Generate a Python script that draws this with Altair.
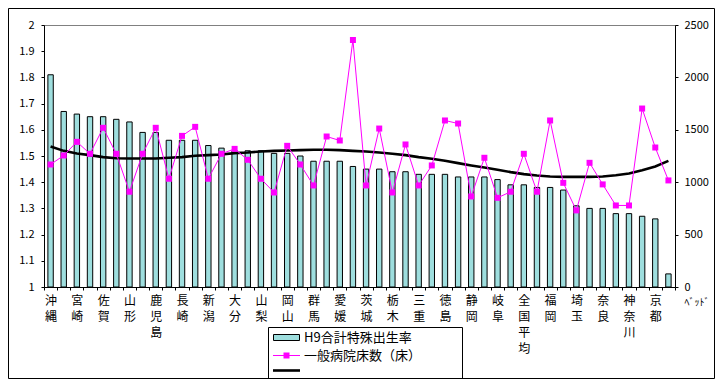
import json
import altair as alt
import pandas as pd

# ---- data ----
prefs = ["沖縄", "福島", "宮崎", "島根", "佐賀", "鳥取", "山形", "熊本", "鹿児島", "福井",
         "長崎", "岩手", "新潟", "長野", "大分", "秋田", "山梨", "青森", "岡山", "香川",
         "群馬", "滋賀", "愛媛", "富山", "茨城", "山口", "栃木", "和歌山", "三重", "石川",
         "徳島", "広島", "静岡", "高知", "岐阜", "愛知", "全国平均", "宮城", "福岡", "兵庫",
         "埼玉", "千葉", "奈良", "大阪", "神奈川", "北海道", "京都", "東京"]

shown_labels = ["沖縄", "宮崎", "佐賀", "山形", "鹿児島", "長崎", "新潟", "大分", "山梨", "岡山",
                "群馬", "愛媛", "茨城", "栃木", "三重", "徳島", "静岡", "岐阜", "全国平均", "福岡",
                "埼玉", "奈良", "神奈川", "京都"]

tfr = [1.81, 1.67, 1.66, 1.65, 1.65, 1.64, 1.63, 1.59, 1.59, 1.56,
       1.56, 1.56, 1.54, 1.53, 1.52, 1.52, 1.52, 1.51, 1.51, 1.50,
       1.48, 1.48, 1.48, 1.46, 1.45, 1.45, 1.44, 1.44, 1.43, 1.43,
       1.43, 1.42, 1.42, 1.42, 1.41, 1.39, 1.39, 1.38, 1.38, 1.37,
       1.31, 1.30, 1.30, 1.28, 1.28, 1.27, 1.26, 1.05]

beds = [1169, 1255, 1385, 1271, 1519, 1271, 909, 1271, 1519, 1033,
        1442, 1528, 1033, 1271, 1318, 1214, 1033, 902, 1347, 1169,
        969, 1436, 1398, 2357, 969, 1512, 902, 1360, 969, 1160,
        1589, 1560, 864, 1233, 851, 909, 1271, 909, 1589, 994,
        731, 1185, 979, 778, 778, 1703, 1331, 1017]

trend = [1341, 1299, 1274, 1258, 1239, 1229, 1226, 1226, 1226, 1233,
         1239, 1252, 1258, 1264, 1277, 1283, 1293, 1299, 1302, 1306,
         1309, 1309, 1306, 1299, 1293, 1283, 1271, 1258, 1239, 1223,
         1204, 1182, 1160, 1140, 1118, 1096, 1077, 1064, 1055, 1051,
         1051, 1051, 1055, 1067, 1083, 1115, 1150, 1204]

left_ticks = [1.0, 1.1, 1.2, 1.3, 1.4, 1.5, 1.6, 1.7, 1.8, 1.9, 2.0]
right_ticks = [0, 500, 1000, 1500, 2000, 2500]

legend_labels = ["H9合計特殊出生率", "一般病院床数（床）", ""]
right_unit = "ﾍﾞｯﾄﾞ"

df = pd.DataFrame({"pref": prefs, "tfr": tfr, "beds": beds, "trend": trend})

W, H = 631, 262
FONT = "Noto Sans CJK JP"
BAR_FILL = "#9edede"
PINK = "#ff00ff"

label_arr = json.dumps(shown_labels, ensure_ascii=False)
x_enc = alt.X(
    "pref:N", sort=prefs,
    scale=alt.Scale(paddingInner=0, paddingOuter=0),
    axis=alt.Axis(
        title=None, labelAngle=0, labelOverlap=False, tickBand="extent",
        tickSize=3, labelPadding=5, labelFontSize=12, labelLineHeight=16,
        labelBaseline="top", labelAlign="center",
        labelExpr=f"indexof({label_arr}, datum.value) >= 0 ? split(datum.value, '') : ''",
    ),
)

bars = alt.Chart().mark_bar(
    width=alt.RelativeBandSize(0.41), fill=BAR_FILL, stroke="black", strokeWidth=1
).encode(
    x=x_enc,
    y=alt.Y("tfr:Q", scale=alt.Scale(domain=[1, 2], zero=False, nice=False),
            axis=alt.Axis(title=None, orient="left", values=left_ticks, format="~g",
                          tickSize=3, labelPadding=7, labelFontSize=11)),
    y2=alt.datum(1),
)

y_right_scale = alt.Scale(domain=[0, 2500], nice=False)
y_right_axis = alt.Axis(orient="right", values=right_ticks, format="d", tickSize=3,
                        labelPadding=6, labelFontSize=11, title=right_unit, titleAngle=0,
                        titleX=9, titleY=H + 15, titleAlign="left",
                        titleBaseline="middle", titleFontSize=10,
                        titleFontWeight="normal")

trend_line = alt.Chart().mark_line(color="black", strokeWidth=2.6).encode(
    x=x_enc, y=alt.Y("trend:Q", scale=y_right_scale, axis=y_right_axis),
)
pink_line = alt.Chart().mark_line(color=PINK, strokeWidth=1).encode(
    x=x_enc, y=alt.Y("beds:Q", scale=y_right_scale, axis=y_right_axis, title=right_unit)
)
pink_pts = alt.Chart().mark_square(color=PINK, size=36, opacity=1).encode(
    x=x_enc, y=alt.Y("beds:Q", scale=y_right_scale, axis=y_right_axis, title=right_unit)
)
right_layer = alt.layer(trend_line, pink_line, pink_pts)

# ---- legend (boxed key under the plot) ----
one = pd.DataFrame({"k": [0]})
LX0, LX1, LY0, LY1 = 224, 418, 302, 353
rows = [312, 330, 345]
sx0, sx1, tx = 229, 256, 260

leg_box = alt.Chart(one).mark_rect(fill="white", stroke="black", strokeWidth=1).encode(
    x=alt.value(LX0 + 0.5), x2=alt.value(LX1 + 0.5), y=alt.value(LY0 + 0.5), y2=alt.value(LY1 + 0.5))
leg_sw = alt.Chart(one).mark_rect(fill=BAR_FILL, stroke="black", strokeWidth=1).encode(
    x=alt.value(sx0 + 0.5), x2=alt.value(sx1 - 1 + 0.5), y=alt.value(rows[0] - 3 + 0.5), y2=alt.value(rows[0] + 3 + 0.5))
leg_pl = alt.Chart(one).mark_rule(color=PINK, strokeWidth=1).encode(
    x=alt.value(sx0), x2=alt.value(sx1), y=alt.value(rows[1] + 0.5))
leg_pp = alt.Chart(one).mark_square(color=PINK, size=36, opacity=1).encode(
    x=alt.value((sx0 + sx1) / 2), y=alt.value(rows[1] + 0.5))
leg_bl = alt.Chart(one).mark_rule(color="black", strokeWidth=2.6).encode(
    x=alt.value(sx0), x2=alt.value(sx1), y=alt.value(rows[2] + 0.5))
leg_df = pd.DataFrame({"t": legend_labels, "r": rows})
leg_txt = [
    alt.Chart(leg_df.iloc[[i]]).mark_text(align="left", baseline="middle", fontSize=13, font=FONT).encode(
        x=alt.value(tx), y=alt.value(rows[i] + 1), text="t:N")
    for i in range(2)
]

PAD = {"left": 36, "top": 17, "right": 40, "bottom": 92}
border = alt.Chart(one).mark_rect(fill="transparent", stroke="black", strokeWidth=1).encode(
    x=alt.value(-PAD["left"] + 0.5), x2=alt.value(W + PAD["right"] - 0.5),
    y=alt.value(-PAD["top"] + 0.5), y2=alt.value(H + PAD["bottom"] - 0.5))

chart = alt.layer(
    bars, right_layer, leg_box, leg_sw, leg_pl, leg_pp, leg_bl, *leg_txt, border, data=df
).resolve_scale(y="independent").properties(
    width=W, height=H, padding=PAD,
    autosize=alt.AutoSizeParams(type="none"),
    background="white",
).configure_view(
    stroke="#808080", strokeWidth=1
).configure_axis(
    domainColor="black", tickColor="black", labelColor="black", titleColor="black",
    labelFont=FONT, titleFont=FONT, grid=False, domainWidth=1, tickWidth=1,
).configure_text(font=FONT)

chart.save("out.html", embed_options={"renderer": "svg", "actions": False})
